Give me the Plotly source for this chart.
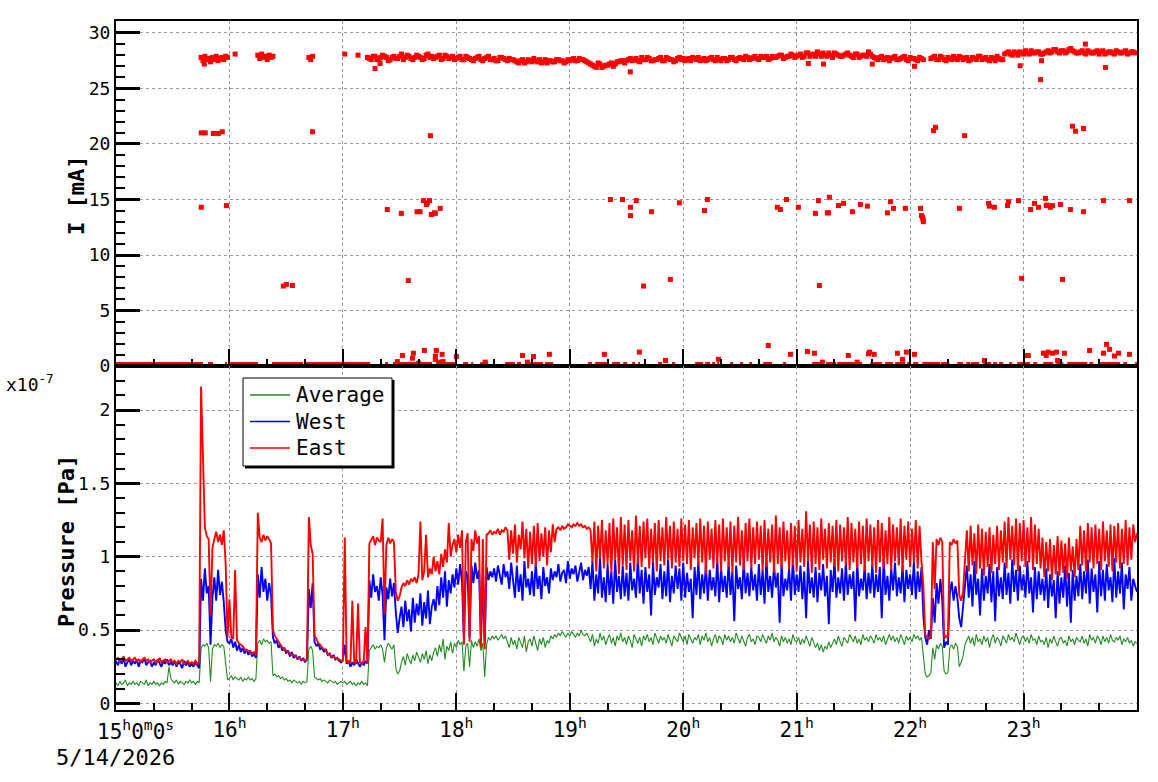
import plotly.graph_objects as go

# ---------------- data ----------------
# time axis: minutes after 15:00:00 on 5/14/2026
HOUR_TICKS = [0, 60, 120, 180, 240, 300, 360, 420, 480]
HOUR_TEXT = ["", "16<sup>h</sup>", "17<sup>h</sup>", "18<sup>h</sup>", "19<sup>h</sup>",
             "20<sup>h</sup>", "21<sup>h</sup>", "22<sup>h</sup>", "23<sup>h</sup>"]

# pressures, one sample per minute from 15:00, in units of 1e-9 Pa (=0.01 x 1e-7 Pa)
east_p = [
    30,31,29,30,32,29,30,31,29,30, 31,29,30,28,30,31,29,30,28,29,
    30,28,29,31,28,29,30,28,29,30, 28,29,27,29,28,30,27,28,29,27,
    28,27,29,27,28,216,164,120,114,112, 60,106,112,117,110,115,108,118,95,45,
    71,45,44,91,43,41,40,39,37,36, 36,35,34,35,33,130,113,110,115,111,
    114,112,109,50,46,44,42,40,38,37, 36,35,34,33,33,32,31,31,30,30,
    29,30,127,108,102,46,44,41,40,38, 37,36,34,33,32,32,31,30,30,29,
    29,113,28,29,27,70,28,27,68,28, 27,29,52,27,109,112,114,108,113,111,
    110,126,61,108,113,109,112,110,76,70, 73,79,82,80,84,81,85,83,86,82,
    88,124,84,90,115,86,92,88,100,90, 97,88,102,93,105,96,123,100,108,112,
    103,115,106,118,40,110,116,42,112,104, 118,109,114,38,112,37,115,116,118,115,
    117,116,119,115,118,117,120,118,98,118, 102,122,96,115,105,124,99,119,92,117,
    95,121,93,123,97,116,100,120,94,118, 103,122,110,119,120,118,121,119,120,122,
    121,120,122,121,123,121,122,120,121,119, 120,118,96,124,90,121,99,125,92,118,
    95,123,89,126,98,120,88,127,94,122, 91,125,97,118,90,128,95,121,93,124,
    99,126,92,119,96,123,90,125,97,120, 94,127,98,121,92,124,96,119,93,126,
    97,122,95,125,91,120,99,123,94,126, 96,121,88,124,98,119,92,125,95,122,
    90,126,97,120,93,124,89,121,96,127, 94,118,91,123,97,126,92,120,95,124,
    98,121,90,125,93,119,96,122,89,128, 95,120,92,124,97,118,91,123,94,121,
    90,125,96,119,93,131,97,122,89,124, 95,120,91,126,98,119,92,123,96,121,
    93,125,90,122,97,120,94,127,91,123, 96,119,92,124,95,121,90,126,97,122,
    93,120,89,125,96,123,92,118,95,127, 91,122,97,120,94,126,90,121,98,124,
    93,119,96,125,92,121,97,80,47,45, 44,46,110,78,112,108,113,110,44,46,
    45,110,108,112,109,111,74,70,76,95, 118,90,121,94,116,88,122,92,119,87,
    117,93,120,89,115,95,121,91,118,96, 124,92,127,98,121,94,126,90,123,97,
    125,93,120,96,127,91,122,95,119,92, 113,86,110,90,112,84,108,88,114,87,
    111,89,109,85,113,90,107,86,112,91, 121,94,118,90,123,96,120,92,122,95,
    119,91,124,97,118,93,122,90,121,96, 123,92,119,95,125,94,120,98,122,110,
    116,
]
west_p = [
    29,26,30,27,31,25,28,30,26,29, 27,30,25,29,28,31,26,28,29,25,
    28,26,30,27,25,29,27,30,26,28, 26,29,25,28,27,24,29,26,28,25,
    27,25,28,26,24,85,70,92,75,80, 40,72,86,70,91,74,83,69,50,42,
    41,44,38,42,36,40,35,38,34,37, 33,36,32,34,31,88,72,93,76,85,
    70,82,74,45,41,43,38,40,36,38, 34,36,32,35,31,33,30,32,29,31,
    28,30,78,65,82,42,39,41,37,38, 35,37,33,34,31,33,30,31,29,28,
    30,40,27,29,25,28,26,30,27,25, 28,26,29,27,84,72,88,76,80,70,
    86,74,43,79,71,85,73,82,62,48, 58,66,52,70,56,64,49,72,55,68,
    60,75,53,69,58,77,54,66,71,63, 80,67,86,72,90,66,84,75,88,79,
    92,81,95,83,43,90,86,45,94,82, 96,85,91,42,88,40,93,84,90,86,
    92,83,94,88,81,95,86,90,78,96, 82,72,94,76,88,70,97,79,85,74,
    90,73,96,78,87,71,93,80,86,75, 92,84,90,86,95,83,89,91,82,97,
    85,92,88,94,83,90,96,84,91,87, 93,78,97,70,88,75,99,72,86,69,
    95,74,90,68,98,76,87,71,94,73, 89,70,96,77,85,72,99,75,91,68,
    93,76,88,60,97,74,86,79,95,71, 90,73,98,69,87,75,94,78,92,70,
    96,72,89,76,85,58,93,74,97,71, 88,75,95,70,91,77,86,73,98,69,
    92,76,87,72,96,74,90,56,94,78, 86,71,97,75,89,73,93,77,88,70,
    95,74,91,68,98,76,87,72,94,79, 89,55,96,73,85,77,92,70,99,74,
    88,76,94,71,90,58,97,75,86,72, 93,69,89,77,95,73,87,54,91,76,
    98,72,86,75,92,70,96,74,88,78, 90,56,97,73,85,77,94,71,89,75,
    95,72,88,76,93,58,99,74,87,70, 92,77,96,73,86,75,94,69,91,78,
    88,74,97,71,90,76,93,60,45,40, 50,44,72,55,82,68,85,70,38,42,
    40,75,83,70,80,72,58,52,66,80, 94,72,88,66,97,74,85,60,92,70,
    87,75,95,69,90,56,93,73,86,71, 96,74,89,68,98,76,91,70,94,77,
    88,72,97,75,86,62,93,71,90,74, 85,70,92,65,88,73,84,58,90,68,
    86,72,94,66,89,55,91,70,87,73, 95,71,90,75,98,68,92,76,88,62,
    97,73,91,70,95,77,86,69,99,72, 90,75,96,64,88,78,93,70,85,80,
    76,
]
avg_p = [
    14,12,15,13,14,16,12,14,13,15, 13,14,12,15,14,13,16,12,14,13,
    15,13,14,12,14,13,15,14,25,17, 15,14,16,13,15,14,13,15,14,16,
    14,15,13,15,14,38,40,39,41,38, 15,37,40,39,41,38,40,39,25,16,
    17,19,16,18,17,16,18,15,17,16, 18,16,17,15,17,41,43,40,44,42,
    43,41,42,19,20,18,19,17,18,16, 17,15,16,14,16,15,14,15,13,15,
    14,15,37,39,36,18,17,16,17,15, 16,15,14,16,15,14,15,13,14,15,
    14,15,13,14,15,13,14,12,14,13, 15,13,14,12,36,38,40,37,39,38,
    40,37,28,38,41,39,37,40,24,20, 22,28,32,26,34,30,27,33,29,35,
    31,28,34,30,36,27,33,29,35,38, 32,40,35,44,30,39,36,42,34,41,
    38,43,40,42,22,39,41,25,43,38, 42,39,44,36,41,18,40,45,43,46,
    44,46,43,45,47,44,46,42,38,45, 40,43,37,45,41,38,46,35,42,44,
    39,46,41,36,44,40,45,38,43,41, 46,44,47,45,48,46,49,47,45,48,
    46,49,47,45,48,46,50,47,46,48, 45,42,47,39,44,41,48,43,46,40,
    44,47,41,45,39,46,43,48,42,45, 40,46,43,38,47,44,41,45,39,46,
    43,47,42,45,40,48,44,41,46,43, 45,41,47,43,39,46,44,42,48,45,
    42,46,40,47,44,41,45,43,47,40, 46,43,48,42,45,39,44,47,41,46,
    44,40,47,43,46,42,45,41,48,44, 41,46,43,39,45,47,42,44,40,46,
    45,42,47,44,41,46,43,48,42,45, 43,39,46,42,45,41,44,40,47,43,
    42,45,40,44,41,46,43,39,45,42, 38,41,36,40,35,39,37,42,38,41,
    44,40,46,42,39,45,43,41,47,44, 42,46,41,44,40,47,43,45,42,46,
    44,41,47,43,45,42,46,40,44,47, 43,46,42,45,41,47,44,40,46,43,
    45,42,47,44,46,43,45,30,20,18, 19,21,38,30,40,37,41,39,22,20,
    21,38,40,37,41,39,25,28,32,40, 43,46,41,45,39,47,42,44,40,46,
    42,45,38,44,47,41,45,43,39,46, 44,41,47,43,45,42,48,44,40,45,
    46,42,45,41,47,43,44,40,46,42, 43,40,45,38,44,41,46,42,39,44,
    45,41,43,39,46,42,44,40,45,43, 42,46,41,44,39,47,43,45,41,46,
    44,40,46,42,45,41,47,43,42,45, 43,46,40,44,42,45,41,43,39,42,
    41,
]

# beam current I [mA]: early short fills (minute, value)
early_t = [45,46,47,48,49,50,51,52,53,54,55,56,57,58,59, 63,
           75,76,77,78,79,80,81,82,83, 102,103,104, 121,128]
early_v = [27.8,27.5,27.9,27.6,27.7,27.4,27.8,27.6,27.9,27.5,27.7,27.8,27.6,27.9,27.8, 28.1,
           28.0,27.7,28.1,27.8,27.9,27.6,28.0,27.8,27.9, 27.8,27.6,27.9, 28.1,28.0]
# main fill: readings every 2 minutes from minute 133 (even slots) and 134 (odd slots)
band1_start = 133
band1_v = [27.8,27.6,27.9,27.7,28.0,27.8,27.6,27.9,27.7,28.1,27.8,27.9,27.6,28.0,27.8,27.7,28.1,27.9,27.8,28.0,27.7,27.9,27.8,27.6,
           27.8,27.6,27.9,27.7,27.5,27.8,27.6,27.7,27.9,27.6,27.5,27.8,27.7,27.5,27.6,
           27.5,27.3,27.6,27.4,27.5,27.7,27.4,27.3,27.6,27.5,27.4,27.6,27.5,27.3,27.6,
           27.6,27.5,27.7,27.6,27.4,
           27.2,27.0,27.3,26.9,27.1,27.2,27.0,27.4,27.5,27.3,
           27.6,27.5,27.7,27.4,27.6,27.8,27.5,27.6,27.7,27.5,27.8,27.6,27.4,27.7,27.6,27.5,27.7,27.8,27.6,27.5,27.7,27.6,27.8,27.5,27.6,27.7,27.5,27.8,27.6,27.7,
           27.7,27.9,27.6,27.8,27.7,27.9,27.8,27.6,27.9,27.8,28.0,27.7,27.9,28.1,27.8,
           28.0,27.8,28.2,27.9,28.1,28.3,27.9,28.0,28.2,27.8,28.1,27.9,28.0,28.2,27.9,28.1,27.8,28.0,27.9,28.1,
           27.8,27.6,27.9,27.7,27.5,27.8,27.6,27.7,27.9,27.5,27.7,27.6,27.8,27.6]
band1_mid_start = 134
band1_mid_v = [27.7,27.9,27.6,27.8,27.9,27.5,27.8,27.7,27.9,27.6,28.0,27.7,27.8,27.9,27.6,28.0,27.8,27.7,27.9,27.6,28.0,27.7,27.9,
               27.7,27.9,27.6,27.8,27.6,27.7,27.9,27.5,27.8,27.6,27.7,27.5,27.8,27.6,27.7,
               27.6,27.4,27.5,27.3,27.6,27.4,27.5,27.6,27.4,27.3,27.5,27.4,27.6,27.5,27.4,
               27.5,27.7,27.5,27.6,27.5,
               27.3,27.1,26.9,27.2,27.0,27.1,27.3,27.2,27.4,27.5,
               27.5,27.7,27.6,27.5,27.8,27.6,27.7,27.5,27.6,27.8,27.5,27.7,27.6,27.5,27.8,27.7,27.6,27.5,27.7,27.8,27.6,27.5,27.7,27.6,27.8,27.5,27.7,27.6,27.8,27.5,
               27.8,27.6,27.8,27.7,27.9,27.6,27.8,27.9,27.7,27.8,27.9,28.0,27.8,27.9,28.0,
               27.9,28.1,27.9,28.2,28.0,27.9,28.1,28.2,27.9,28.0,28.2,28.0,27.9,28.1,28.0,27.8,28.1,27.9,28.0,28.2,
               27.9,27.7,27.8,27.6,27.8,27.7,27.9,27.6,27.8,27.6,27.8,27.7,27.5,27.7]
band2_start = 431
band2_v = [27.7,27.9,27.6,27.8,27.5,27.7,27.9,27.6,27.8,27.7,27.5,27.8,27.6,27.9,27.7,27.6,27.8,27.5,27.7,27.6,
           28.2,28.1,28.3,28.0,28.2,28.4,28.1,28.2,28.3,28.1,28.2,28.4,28.3,28.5,28.2,28.4,28.3,28.6,28.3,28.2,
           28.4,28.1,28.3,28.2,28.4,28.3,28.1,28.3,28.2,28.4,28.2,28.3,28.1,28.3,28.2]
band2_mid_start = 432
band2_mid_v = [27.8,27.6,27.9,27.6,27.8,27.6,27.7,27.9,27.6,27.8,27.6,27.7,27.9,27.6,27.8,27.5,27.7,27.9,27.6,28.1,
               28.3,28.0,28.2,28.3,28.1,28.2,28.4,28.2,28.3,28.1,28.3,28.2,28.5,28.3,28.4,28.2,28.5,28.4,28.2,28.3,
               28.2,28.4,28.2,28.3,28.1,28.4,28.2,28.3,28.1,28.3,28.2,28.4,28.2,28.3]
BAND_STEP = 2
# isolated readings (minute, mA)
out_t = [45.1,47.2,51.5,54.1,56.2,103.9,166.3,
         45.1,58.4,143.5,150.9,159.2,160.8,162.6,164.2,164.7,165.8,166.8,168.4,168.9,171.5,261.5,
         88.5,90.1,93.3,154.6,
         267.9,272.1,272.1,275.2,283.2,298,311.2,312.8,349.8,351.4,354.6,360.9,369.9,371.5,376.2,376.8,377.3,
         382.1,384.8,389.5,393.7,397.4,408,409.6,411.2,417.5,425.5,426,426.6,426.8,427,446.1,461.5,462,464.6,
         471.5,472,477.3,483.7,485.8,487.9,491.6,492,492.5,494.3,495.3,499.5,504.8,511.7,522.3,536,
         432.4,433.4,448.8,505.9,507.5,511.7,
         279,293.2,372,479,500.6,
         148.8,151.5,156.8,157.3,160,163.1,168.9,168.9,169.4,171,172.5,173,180,195.3,215,217.6,220.8,229.2,
         258.3,276.8,290.6,318.6,345,356.7,365.7,369.4,373.6,387.3,392,398,398.5,401,413.3,416,418,422.3,
         459.3,482,482.5,490.5,492,493,495.3,497.4,498,501.6,514.9,522.3,523.9,525.5,528.1,530.2,536,
         46.7,137,139.7,272,366.2,374.2,400,398,422.3,478.2,489,489.5,523.3,512.7]
out_v = [21.0,21.0,20.95,20.95,21.1,21.1,20.75,
         14.3,14.45,14.1,13.75,13.9,13.9,14.9,14.55,14.7,14.9,13.65,13.8,13.75,14.2,15.0,
         7.2,7.35,7.25,7.7,
         15.0,14.3,13.55,14.9,13.9,14.7,14.0,15.0,14.3,14.1,15.0,14.3,13.75,14.9,13.8,13.8,15.2,
         14.45,14.65,13.9,14.55,14.4,13.8,14.8,14.2,14.2,14.2,13.55,13.4,13.2,13.0,14.2,14.65,14.4,14.3,
         14.45,14.8,14.9,14.1,14.65,14.3,15.1,14.45,14.5,14.3,14.45,14.55,14.1,13.9,14.9,14.9,
         21.2,21.5,20.75,21.6,21.15,21.4,
         7.2,7.8,7.25,7.9,7.8,
         0.4,0.95,0.7,1.15,0.25,1.4,0.9,0.6,1.4,0.35,1.05,0.4,0.85,0.35,0.95,0.35,0.85,1.05,
         1.05,1.25,0.5,0.6,1.85,1.05,1.3,1.15,0.35,0.95,0.35,1.1,1.25,1.05,1.15,0.6,1.25,1.05,
         0.5,0.95,0.95,1.15,0.95,1.25,1.15,1.25,0.5,1.15,1.4,1.15,1.95,1.5,0.9,1.15,1.05,
         27.2,26.8,27.25,26.5,27.25,27.2,27.2,28.3,27.0,27.05,25.8,27.5,26.9,29.0]
# intervals (minutes) where the current read 0 mA
zero_start = [0,48.7,57.7,60.3,82.5,100.0,142.3,146.5,169.3,183.6,187.8,192.6,205.8,212.1,217.9,
              226.9,249.7,253.4,262.4,268.2,273.0,276.1,286.7,294.1,306.3,311.6,315.3,317.9,324.8,330.1,
              334.9,342.3,352.8,368.2,375.6,381.4,392.5,398.9,406.8,412.1,418.4,421.6,426.4,436.4,444.9,
              449.7,452.3,458.6,463.9,467.1,472.4,476.6,485.1,490.4,497.3,503.1,514.8,520.5,532.7,539.0]
zero_end = [46.0,51.3,58.7,75.1,98.9,134.4,143.9,167.2,179.3,186.2,188.9,196.8,211.1,214.2,225.9,
            231.2,251.8,260.3,266.6,270.3,274.6,277.2,288.8,295.7,310.5,314.2,316.9,319.0,326.4,331.7,
            336.4,347.0,354.4,373.5,380.9,392.0,394.6,405.2,411.0,417.4,420.0,424.3,435.9,440.7,448.1,
            451.8,456.5,462.9,466.0,469.2,474.0,483.5,487.2,495.7,501.0,513.7,516.8,531.1,534.8,540]

LEGEND_NAMES = ["Average", "West", "East"]

# ---------------- figure ----------------
FONT = "DejaVu Sans Mono"
RED, BLUE, GREEN = "#ff0000", "#0000ff", "#228b22"
COLORS = [GREEN, BLUE, RED]

fig = go.Figure()

# top panel: current
zx, zy = [], []
for s, e in zip(zero_start, zero_end):
    zx += [s, e, None]
    zy += [0, 0, None]
fig.add_trace(go.Scatter(x=zx, y=zy, mode="lines", line=dict(color=RED, width=8),
                         showlegend=False, hoverinfo="skip", xaxis="x", yaxis="y"))
band_t = (early_t
          + [band1_start + BAND_STEP * i for i in range(len(band1_v))]
          + [band1_mid_start + BAND_STEP * i for i in range(len(band1_mid_v))]
          + [band2_start + BAND_STEP * i for i in range(len(band2_v))]
          + [band2_mid_start + BAND_STEP * i for i in range(len(band2_mid_v))])
band_v = early_v + band1_v + band1_mid_v + band2_v + band2_mid_v
fig.add_trace(go.Scatter(x=band_t + out_t, y=band_v + out_v, mode="markers",
                         marker=dict(symbol="square", size=5, color=RED, line=dict(width=0)),
                         showlegend=False, xaxis="x", yaxis="y"))

# bottom panel: pressure (plotted in units of 1e-7 Pa)
widths = [1.1, 1.9, 1.9]
for name, series, col, w in zip(LEGEND_NAMES, [avg_p, west_p, east_p], COLORS, widths):
    fig.add_trace(go.Scatter(x=list(range(len(series))), y=[v / 100 for v in series],
                             mode="lines", name=name, line=dict(color=col, width=w),
                             showlegend=False, xaxis="x2", yaxis="y2"))

axis_common = dict(showline=True, linecolor="black", linewidth=2, mirror=True,
                   ticks="inside", tickcolor="black", zeroline=False,
                   showgrid=True, gridcolor="#9a9a9a", gridwidth=1, griddash="3px,3px")
xcommon = dict(axis_common, range=[0, 540], tickmode="array", tickvals=HOUR_TICKS,
               ticklen=17, tickwidth=2,
               minor=dict(ticks="inside", ticklen=7, tickwidth=2, tickcolor="black",
                          tickmode="linear", tick0=0, dtick=20, showgrid=False))

pt = 21; pb = 72; H = 782
plot_h = H - pt - pb
split = (710 - 366) / plot_h

fig.update_layout(
    width=1158, height=782,
    margin=dict(l=116, r=21, t=pt, b=pb),
    paper_bgcolor="white", plot_bgcolor="white",
    font=dict(family=FONT, color="black", size=17),
    showlegend=False,
    xaxis=dict(xcommon, anchor="y", domain=[0, 1], showticklabels=False, matches="x2"),
    xaxis2=dict(xcommon, anchor="y2", domain=[0, 1], ticktext=HOUR_TEXT,
                tickfont=dict(size=21, family=FONT)),
    yaxis=dict(axis_common, anchor="x", domain=[split, 1], range=[0, 31.08],
               tickmode="array", tickvals=[0, 5, 10, 15, 20, 25, 30], ticklen=24, tickwidth=3,
               tickfont=dict(size=18, family=FONT),
               minor=dict(ticks="inside", ticklen=9, tickwidth=2, tickcolor="black",
                          tickmode="linear", tick0=0, dtick=1, showgrid=False)),
    yaxis2=dict(axis_common, anchor="x2", domain=[0, split], range=[-0.045, 2.30],
                tickmode="array", tickvals=[0, 0.5, 1, 1.5, 2], ticktext=["0", "0.5", "1", "1.5", "2"],
                ticklen=24, tickwidth=3, tickfont=dict(size=18, family=FONT),
                minor=dict(ticks="inside", ticklen=9, tickwidth=2, tickcolor="black",
                           tickmode="linear", tick0=0, dtick=0.1, showgrid=False)),
)

def px_x(p):
    return (p - 116) / 1021

def px_y(p):
    return (710 - p) / plot_h

fig.add_annotation(text="<b>I [mA]</b>", textangle=-90, xref="paper", yref="paper",
                   x=px_x(77), y=px_y(196), xanchor="center", yanchor="middle",
                   showarrow=False, font=dict(family=FONT, size=22))
fig.add_annotation(text="<b>Pressure [Pa]</b>", textangle=-90, xref="paper", yref="paper",
                   x=px_x(66), y=px_y(541), xanchor="center", yanchor="middle",
                   showarrow=False, font=dict(family=FONT, size=22))
fig.add_annotation(text="x10<sup>-7</sup>", xref="paper", yref="paper", x=px_x(30), y=px_y(383),
                   xanchor="center", yanchor="middle", showarrow=False, font=dict(family=FONT, size=18))
fig.add_annotation(text="15<sup>h</sup>0<sup>m</sup>0<sup>s</sup>", xref="paper", yref="paper",
                   x=px_x(95), y=px_y(714), xanchor="left", yanchor="top", showarrow=False,
                   font=dict(family=FONT, size=21))
fig.add_annotation(text="5/14/2026", xref="paper", yref="paper", x=px_x(115), y=px_y(743),
                   xanchor="center", yanchor="top", showarrow=False, font=dict(family=FONT, size=22))

# legend box (drawn by hand to match the frame of the original), with shadow
fig.add_shape(type="rect", xref="paper", yref="paper", x0=px_x(245), x1=px_x(394.5),
              y0=px_y(468.5), y1=px_y(380), fillcolor="black", line=dict(width=0), layer="above")
fig.add_shape(type="rect", xref="paper", yref="paper", x0=px_x(243), x1=px_x(392),
              y0=px_y(466), y1=px_y(378), fillcolor="white", line=dict(color="black", width=1),
              layer="above")
for i, (name, col) in enumerate(zip(LEGEND_NAMES, COLORS)):
    yc = 395 + 26.5 * i
    fig.add_shape(type="line", xref="paper", yref="paper", x0=px_x(250), x1=px_x(290),
                  y0=px_y(yc), y1=px_y(yc), line=dict(color=col, width=1.5), layer="above")
    fig.add_annotation(text=name, xref="paper", yref="paper", x=px_x(294), y=px_y(yc),
                       xanchor="left", yanchor="middle", showarrow=False,
                       font=dict(family=FONT, size=21))

fig.write_html("out.html")
